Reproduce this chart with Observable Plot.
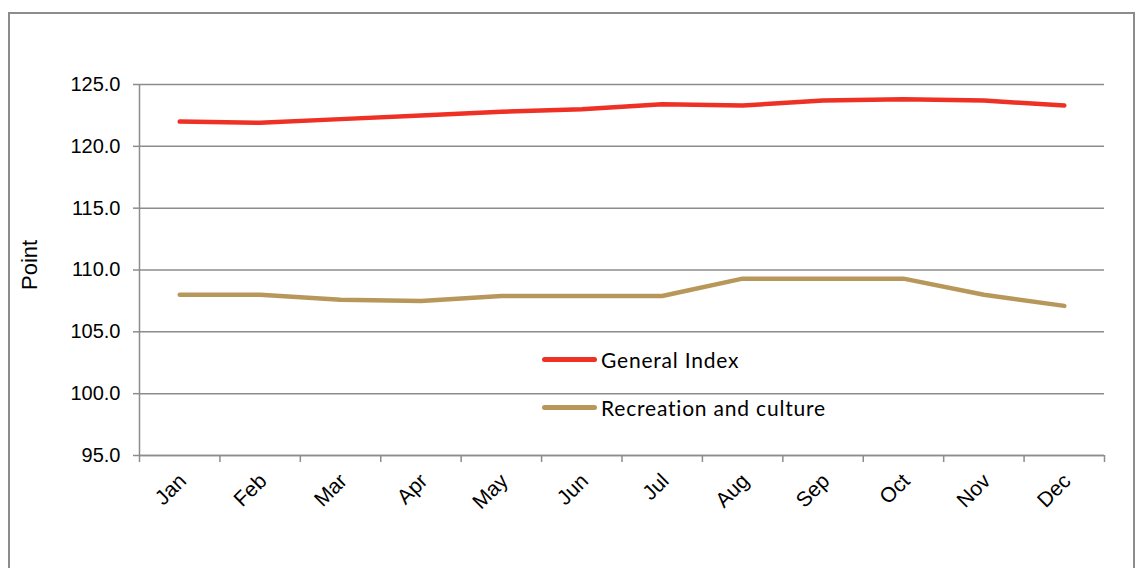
<!DOCTYPE html>
<html>
<head>
<meta charset="utf-8">
<script src="https://cdn.jsdelivr.net/npm/d3@7"></script>
<script src="https://cdn.jsdelivr.net/npm/@observablehq/plot@0.6"></script>
<style>
  html, body { margin: 0; padding: 0; background: #fff; }
  #wrap { position: relative; width: 1137px; height: 568px; overflow: hidden; }
  #frame { position: absolute; left: 8px; top: 12px; width: 1123px; height: 600px; border: 2px solid #8c8c8c; pointer-events: none; }
  .legend { position: absolute; font-family: Lato, "Open Sans", sans-serif; font-size: 21px; letter-spacing: 0.8px; color: #000; display: flex; align-items: center; white-space: nowrap; }
  .legend span.sw { display: inline-block; width: 55px; height: 5px; border-radius: 3px; margin-right: 4px; }
</style>
</head>
<body>
<div id="wrap">
  <div id="chart"></div>
  <div id="frame"></div>
  <div id="legend"></div>
</div>
<script>
const months = ["Jan","Feb","Mar","Apr","May","Jun","Jul","Aug","Sep","Oct","Nov","Dec"];
const generalIndex = [122.0,121.9,122.2,122.5,122.8,123.0,123.4,123.3,123.7,123.8,123.7,123.3];
const recreationCulture = [108.0,108.0,107.6,107.5,107.9,107.9,107.9,109.3,109.3,109.3,108.0,107.1];
const seriesNames = ["General Index","Recreation and culture"];
const seriesColors = ["#ee3124","#b8985a"];
const yTicks = [95,100,105,110,115,120,125];

const rows = [];
months.forEach((m,i) => {
  rows.push({month:m, idx:i+0.5, value:generalIndex[i], series:seriesNames[0]});
  rows.push({month:m, idx:i+0.5, value:recreationCulture[i], series:seriesNames[1]});
});
const monthRows = months.map((m,i)=>({month:m, idx:i+0.5}));

const chart = Plot.plot({
  width: 1137, height: 568,
  marginLeft: 139, marginRight: 33, marginTop: 84, marginBottom: 113,
  x: {domain: [0, 12], axis: null, label: null},
  y: {domain: [95, 125], axis: null, label: null},
  color: {domain: seriesNames, range: seriesColors},
  style: {fontFamily: '"Liberation Sans", Arial, sans-serif', fontSize: "20px", color: "#000", background: "transparent"},
  marks: [
    Plot.gridY(yTicks, {stroke: "#8c8c8c", strokeOpacity: 1, strokeWidth: 1.5}),
    Plot.axisY(yTicks, {tickFormat: d => d.toFixed(1), tickSize: 6, tickPadding: 13, stroke: "#8c8c8c", strokeWidth: 1.5, fontSize: 20, fill: "#000", label: null}),
    Plot.ruleX([0], {stroke: "#8c8c8c", strokeWidth: 1.5}),
    Plot.axisX(d3.range(13), {tickFormat: () => "", tickSize: 7, stroke: "#8c8c8c", strokeWidth: 1.5, label: null}),
    Plot.ruleY([95], {stroke: "#8c8c8c", strokeWidth: 1.5}),
    Plot.line(rows, {x: "idx", y: "value", z: "series", stroke: "series", strokeWidth: 4.5, strokeLinecap: "round", strokeLinejoin: "round"}),
    Plot.text(monthRows, {x: "idx", y: 95, text: "month", rotate: -45, textAnchor: "end", lineAnchor: "middle", dx: 3, dy: 22, fontSize: 21, fill: "#000"}),
    Plot.text(["Point"], {frameAnchor: "left", text: d => d, rotate: -90, dx: -110, dy: 20, fontSize: 22, fill: "#000"})
  ]
});
document.getElementById("chart").appendChild(chart);

const legendPos = [{top: 359}, {top: 407}];
const lg = document.getElementById("legend");
seriesNames.forEach((name, i) => {
  const d = document.createElement("div");
  d.className = "legend";
  d.style.left = "542px";
  d.style.top = (legendPos[i].top - 12) + "px";
  d.style.height = "24px";
  d.innerHTML = `<span class="sw" style="background:${seriesColors[i]}"></span>${name}`;
  lg.appendChild(d);
});
</script>
</body>
</html>
